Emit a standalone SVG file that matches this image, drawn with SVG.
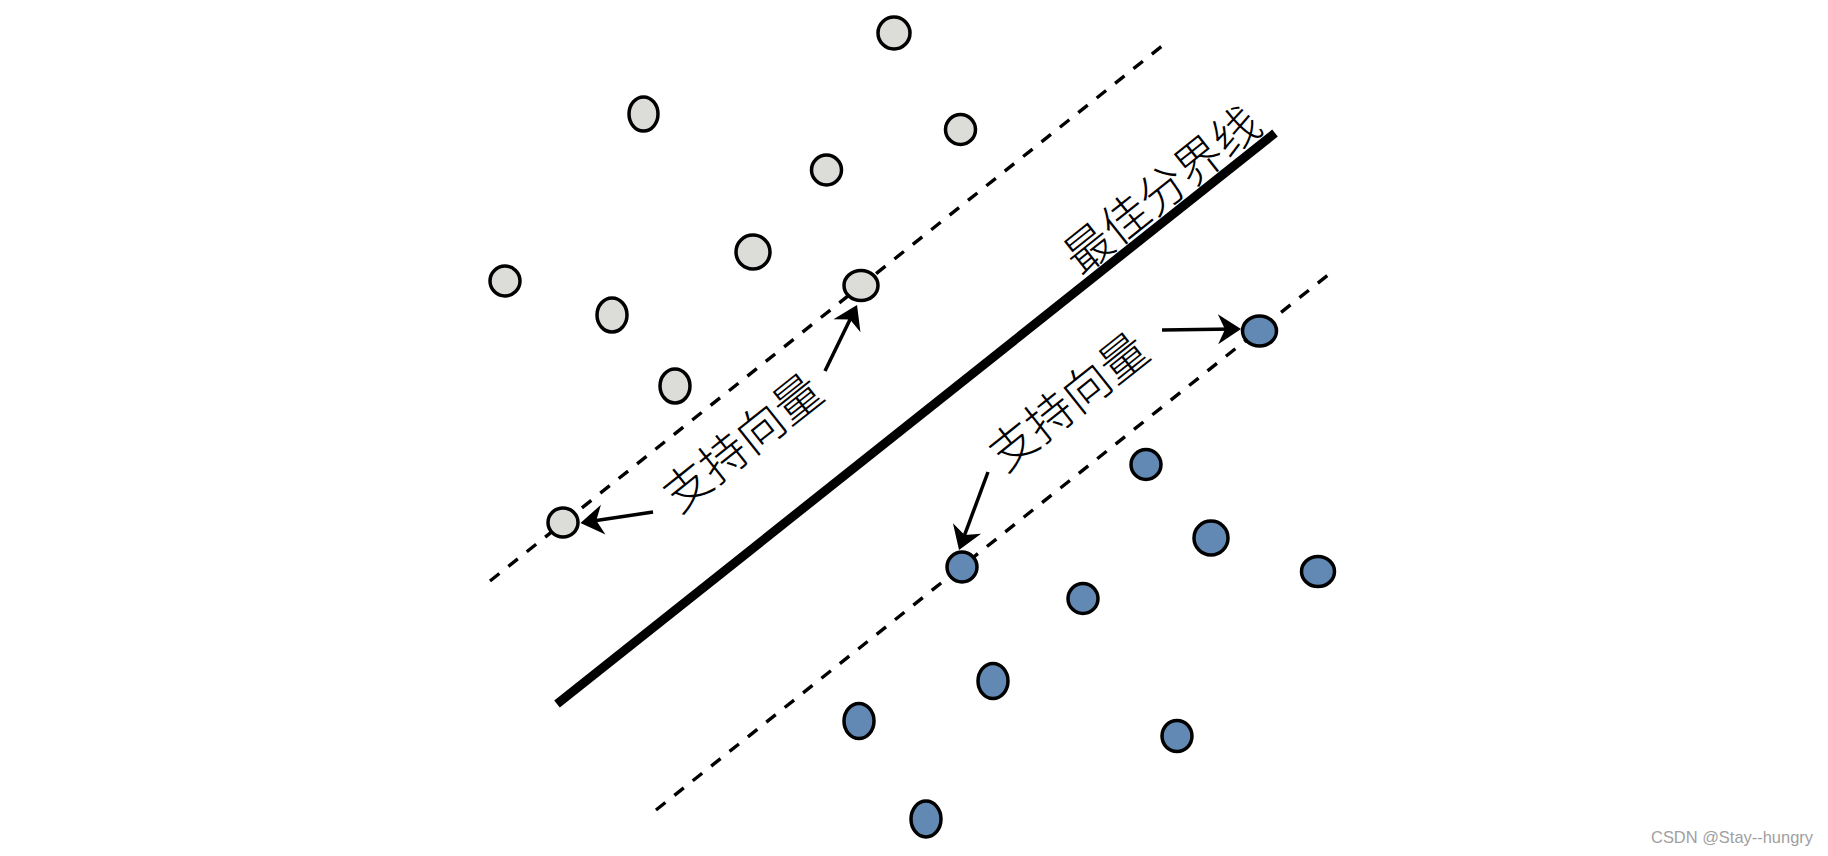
<svg xmlns="http://www.w3.org/2000/svg" width="1828" height="856" viewBox="0 0 1828 856">
<style>
.g{fill:#dcdcd8;stroke:#000;stroke-width:3.5}
.b{fill:#6189b4;stroke:#000;stroke-width:3.5}
.dash{stroke:#000;stroke-width:3.4;stroke-dasharray:12 11.5;fill:none}
.arr{stroke:#000;stroke-width:3.5;fill:none;marker-end:url(#ah)}
.lbl{font-family:"Noto Sans CJK SC","Noto Sans CJK JP",sans-serif;font-weight:300;font-size:47px;fill:#000;text-anchor:middle;dominant-baseline:central}
.wm{font-family:"Liberation Sans",Arial,sans-serif;font-size:17px;fill:#a0a0a0}
</style>
<defs>
<marker id="ah" markerUnits="userSpaceOnUse" markerWidth="24" markerHeight="30" refX="17" refY="15" orient="auto" overflow="visible">
<path d="M0,0 L23,15 L0,30 L7,15 Z" fill="#000"/>
</marker>
</defs>
<rect width="1828" height="856" fill="#fff"/>
<g id="lines">
<line id="boundary" x1="557" y1="704" x2="1275" y2="133" stroke="#000" stroke-width="9"/>
<line id="margin-upper" class="dash" x1="490" y1="581" x2="1167" y2="42"/>
<line id="margin-lower" class="dash" x1="656" y1="810" x2="1333" y2="271"/>
</g>
<g id="grey-points">
<ellipse id="g1" class="g" cx="894" cy="33" rx="16" ry="16"/>
<ellipse id="g2" class="g" cx="643.5" cy="114" rx="14.5" ry="17"/>
<ellipse id="g3" class="g" cx="960.5" cy="129.5" rx="15" ry="15"/>
<ellipse id="g4" class="g" cx="826.5" cy="170" rx="15" ry="15"/>
<ellipse id="g5" class="g" cx="753" cy="252" rx="17" ry="17"/>
<ellipse id="g6" class="g" cx="505" cy="281" rx="15" ry="15"/>
<ellipse id="g7" class="g" cx="861" cy="285.5" rx="17" ry="15"/>
<ellipse id="g8" class="g" cx="612" cy="315" rx="15" ry="17"/>
<ellipse id="g9" class="g" cx="675" cy="386" rx="15" ry="17"/>
<ellipse id="g10" class="g" cx="563" cy="522.5" rx="15" ry="14.5"/>
</g>
<g id="blue-points">
<ellipse id="b1" class="b" cx="1259.5" cy="331" rx="17" ry="15"/>
<ellipse id="b2" class="b" cx="1146" cy="464.5" rx="15" ry="15"/>
<ellipse id="b3" class="b" cx="1211" cy="538" rx="17" ry="17"/>
<ellipse id="b4" class="b" cx="1318" cy="571.5" rx="16.5" ry="15"/>
<ellipse id="b5" class="b" cx="962" cy="567" rx="15" ry="15"/>
<ellipse id="b6" class="b" cx="1083" cy="598.5" rx="15" ry="15"/>
<ellipse id="b7" class="b" cx="993" cy="681" rx="15" ry="17.5"/>
<ellipse id="b8" class="b" cx="859" cy="721" rx="15" ry="17.5"/>
<ellipse id="b9" class="b" cx="1177" cy="736" rx="15" ry="15.5"/>
<ellipse id="b10" class="b" cx="926" cy="819" rx="15" ry="18"/>
</g>
<g id="connectors">
<line class="arr" x1="653" y1="512" x2="586.4" y2="522.1"/>
<line class="arr" x1="825" y1="371" x2="854.4" y2="310.4"/>
<line class="arr" x1="1162" y1="330" x2="1235" y2="329.1"/>
<line class="arr" x1="988" y1="472" x2="961.1" y2="544.4"/>
</g>
<g id="labels">
<text id="t-boundary" class="lbl" transform="translate(1160,187) rotate(-38.5)">最佳分界线</text>
<text id="t-sv-upper" class="lbl" transform="translate(740,440) rotate(-38.5)">支持向量</text>
<text id="t-sv-lower" class="lbl" transform="translate(1066,399) rotate(-38.5)">支持向量</text>
</g>
<text id="watermark" class="wm" x="1651" y="843" textLength="162" lengthAdjust="spacingAndGlyphs">CSDN @Stay--hungry</text>
</svg>
